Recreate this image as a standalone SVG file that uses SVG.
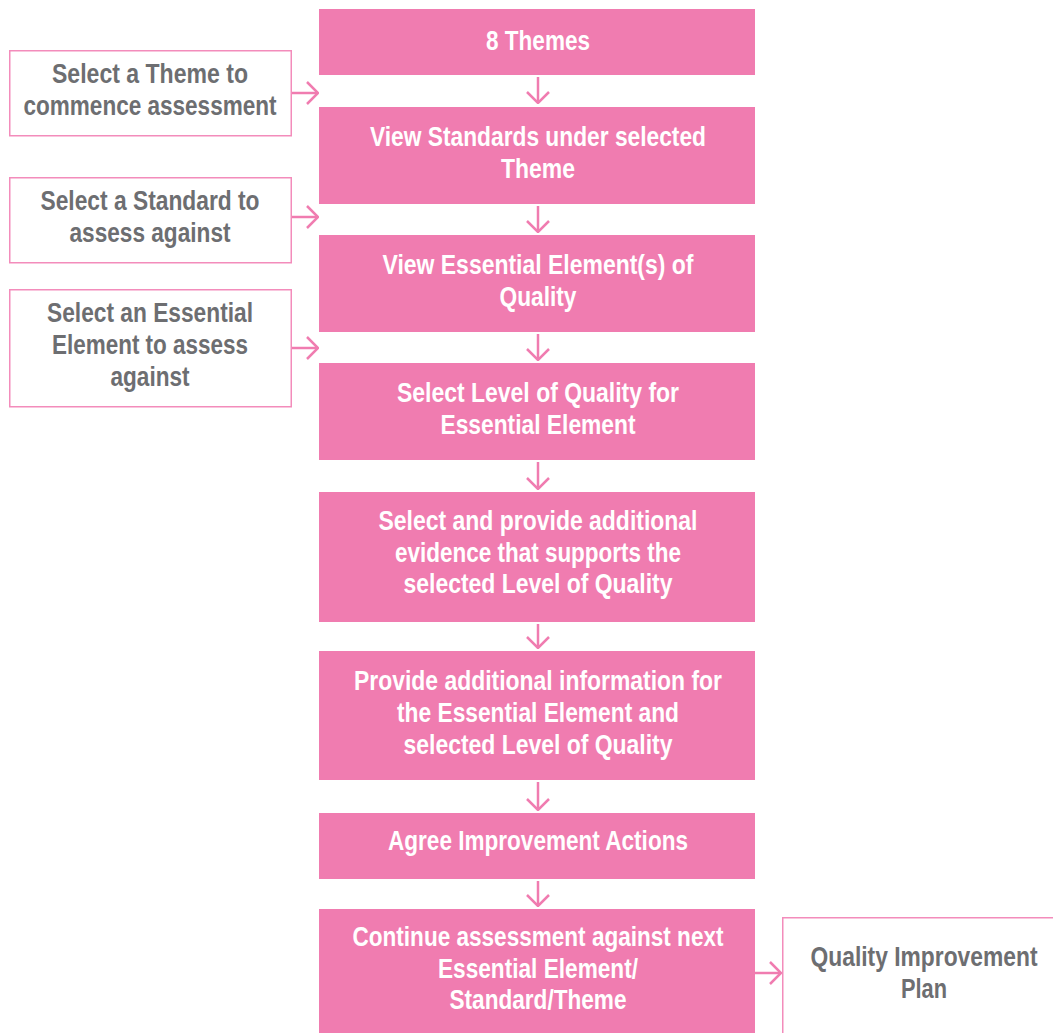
<svg xmlns="http://www.w3.org/2000/svg" width="1053" height="1033" viewBox="0 0 1053 1033">
<style>
.main{fill:#f07cb0;}
.side{fill:#fff;stroke:#f38cbb;stroke-width:1.5;}
.wt{fill:#fff;font-family:"Liberation Sans",Arial,sans-serif;font-weight:bold;font-size:27px;text-anchor:middle;}
.gt{fill:#6d6e71;font-family:"Liberation Sans",Arial,sans-serif;font-weight:bold;font-size:27px;text-anchor:middle;}
.conn{fill:none;stroke:#f07cb0;stroke-width:2.5;}
</style>
<defs>
<marker id="ah" markerUnits="userSpaceOnUse" viewBox="0 0 13 24" refX="12" refY="12" markerWidth="13" markerHeight="24" orient="auto">
<path d="M1,1 L12,12 L1,23" fill="none" stroke="#f07cb0" stroke-width="2.5"/>
</marker>
</defs>
<rect width="1053" height="1033" fill="#fff"/>
<g id="connectors">
<path class="conn" marker-end="url(#ah)" d="M538,77 V103"/>
<path class="conn" marker-end="url(#ah)" d="M538,206 V232"/>
<path class="conn" marker-end="url(#ah)" d="M538,334 V360"/>
<path class="conn" marker-end="url(#ah)" d="M538,462 V489"/>
<path class="conn" marker-end="url(#ah)" d="M538,624 V648"/>
<path class="conn" marker-end="url(#ah)" d="M538,782 V810"/>
<path class="conn" marker-end="url(#ah)" d="M538,881 V906"/>
<path class="conn" marker-end="url(#ah)" d="M292,93 H318"/>
<path class="conn" marker-end="url(#ah)" d="M292,217 H318"/>
<path class="conn" marker-end="url(#ah)" d="M292,348 H318"/>
<path class="conn" marker-end="url(#ah)" d="M755,973 H781"/>
</g>
<g id="n1"><rect class="main" x="319" y="9" width="436" height="66"/>
<text class="wt" x="538" y="50" textLength="104" lengthAdjust="spacingAndGlyphs">8 Themes</text></g>
<g id="n2"><rect class="main" x="319" y="107" width="436" height="97"/>
<text class="wt" x="538" y="146" textLength="336" lengthAdjust="spacingAndGlyphs">View Standards under selected</text>
<text class="wt" x="538" y="178" textLength="74" lengthAdjust="spacingAndGlyphs">Theme</text></g>
<g id="n3"><rect class="main" x="319" y="235" width="436" height="97"/>
<text class="wt" x="538" y="274" textLength="311" lengthAdjust="spacingAndGlyphs">View Essential Element(s) of</text>
<text class="wt" x="538" y="306" textLength="77" lengthAdjust="spacingAndGlyphs">Quality</text></g>
<g id="n4"><rect class="main" x="319" y="363" width="436" height="97"/>
<text class="wt" x="538" y="402" textLength="282" lengthAdjust="spacingAndGlyphs">Select Level of Quality for</text>
<text class="wt" x="538" y="434" textLength="195" lengthAdjust="spacingAndGlyphs">Essential Element</text></g>
<g id="n5"><rect class="main" x="319" y="492" width="436" height="130"/>
<text class="wt" x="538" y="530" textLength="319" lengthAdjust="spacingAndGlyphs">Select and provide additional</text>
<text class="wt" x="538" y="562" textLength="286" lengthAdjust="spacingAndGlyphs">evidence that supports the</text>
<text class="wt" x="538" y="593" textLength="269" lengthAdjust="spacingAndGlyphs">selected Level of Quality</text></g>
<g id="n6"><rect class="main" x="319" y="651" width="436" height="129"/>
<text class="wt" x="538" y="690" textLength="368" lengthAdjust="spacingAndGlyphs">Provide additional information for</text>
<text class="wt" x="538" y="722" textLength="282" lengthAdjust="spacingAndGlyphs">the Essential Element and</text>
<text class="wt" x="538" y="754" textLength="269" lengthAdjust="spacingAndGlyphs">selected Level of Quality</text></g>
<g id="n7"><rect class="main" x="319" y="813" width="436" height="66"/>
<text class="wt" x="538" y="850" textLength="300" lengthAdjust="spacingAndGlyphs">Agree Improvement Actions</text></g>
<g id="n8"><rect class="main" x="319" y="909" width="436" height="124"/>
<text class="wt" x="538" y="946" textLength="371" lengthAdjust="spacingAndGlyphs">Continue assessment against next</text>
<text class="wt" x="538" y="978" textLength="200" lengthAdjust="spacingAndGlyphs">Essential Element/</text>
<text class="wt" x="538" y="1009" textLength="177" lengthAdjust="spacingAndGlyphs">Standard/Theme</text></g>
<g id="s1"><rect class="side" x="9.75" y="50.75" width="281.5" height="85"/>
<text class="gt" x="150" y="83" textLength="196" lengthAdjust="spacingAndGlyphs">Select a Theme to</text>
<text class="gt" x="150" y="115" textLength="253" lengthAdjust="spacingAndGlyphs">commence assessment</text></g>
<g id="s2"><rect class="side" x="9.75" y="177.75" width="281.5" height="85"/>
<text class="gt" x="150" y="210" textLength="219" lengthAdjust="spacingAndGlyphs">Select a Standard to</text>
<text class="gt" x="150" y="242" textLength="161" lengthAdjust="spacingAndGlyphs">assess against</text></g>
<g id="s3"><rect class="side" x="9.75" y="289.75" width="281.5" height="117"/>
<text class="gt" x="150" y="322" textLength="206" lengthAdjust="spacingAndGlyphs">Select an Essential</text>
<text class="gt" x="150" y="354" textLength="196" lengthAdjust="spacingAndGlyphs">Element to assess</text>
<text class="gt" x="150" y="386" textLength="79" lengthAdjust="spacingAndGlyphs">against</text></g>
<g id="s4"><rect class="side" x="782.75" y="917.75" width="275" height="120"/>
<text class="gt" x="924" y="966" textLength="227" lengthAdjust="spacingAndGlyphs">Quality Improvement</text>
<text class="gt" x="924" y="998" textLength="46" lengthAdjust="spacingAndGlyphs">Plan</text></g>
</svg>
